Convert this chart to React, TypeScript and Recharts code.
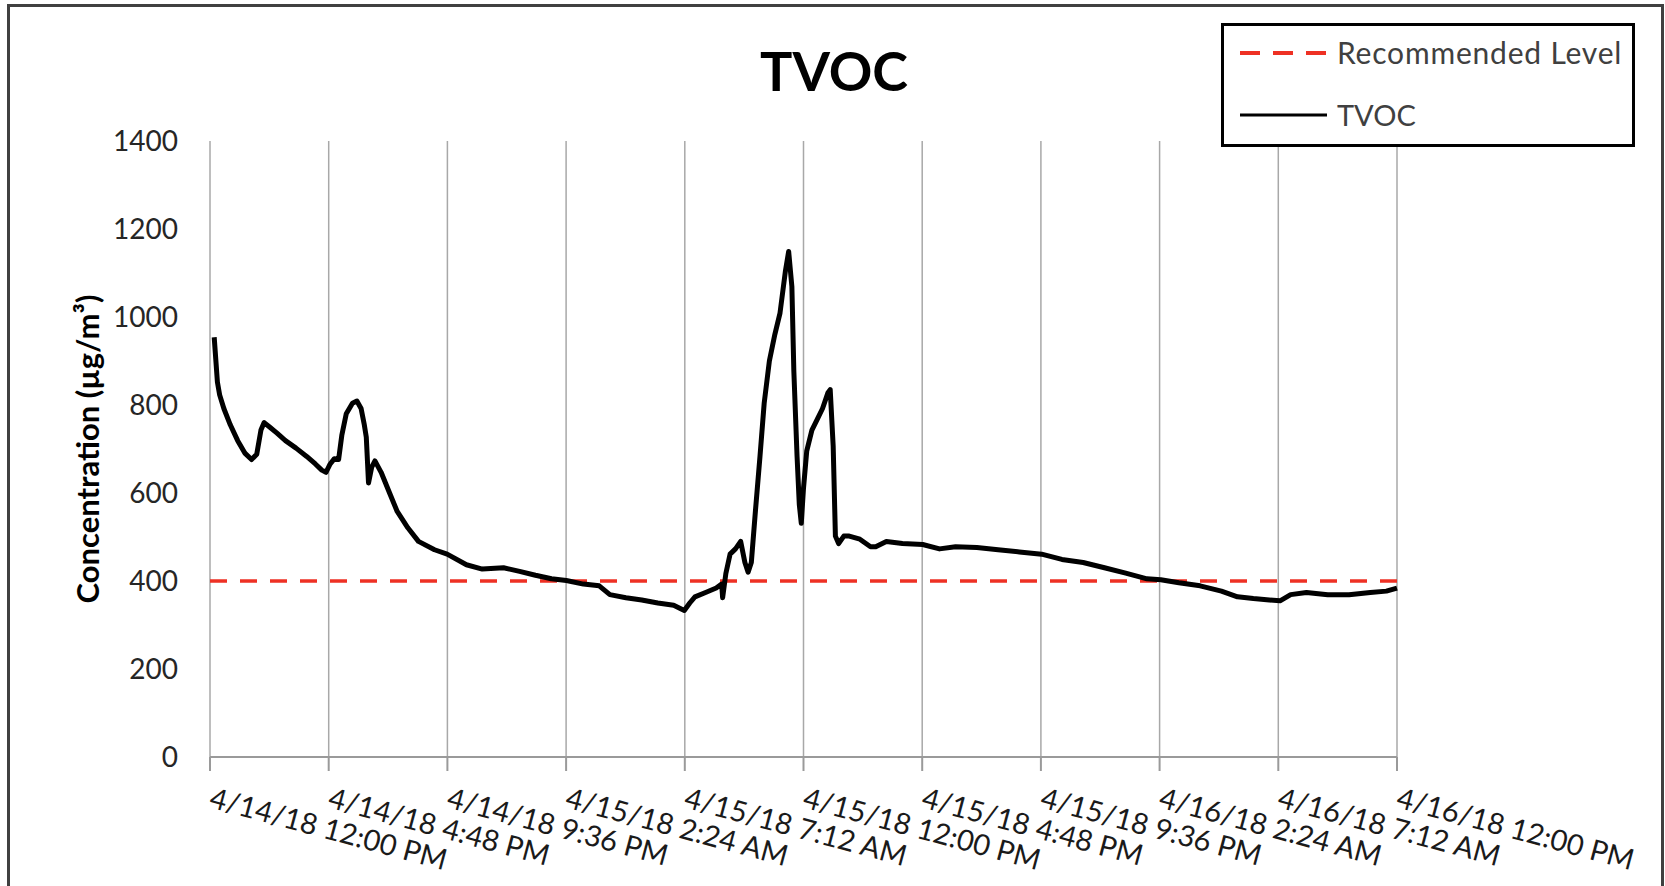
import { LineChart, Line, XAxis, YAxis, CartesianGrid, ReferenceLine, Legend } from 'recharts'

// hours since 4/14/18 12:00 PM
const HOURS = [
  0.17, 0.3, 0.39, 0.56, 0.82, 1.12, 1.42, 1.68, 1.89, 2.06, 2.19, 2.41, 2.71, 3.05, 3.48, 3.91, 4.26,
  4.52, 4.69, 4.86, 5.03, 5.2, 5.33, 5.51, 5.76, 5.94, 6.11, 6.24, 6.32, 6.41, 6.54, 6.67, 6.92, 7.27,
  7.57, 8.0, 8.43, 9.08, 9.59, 10.37, 11.01, 11.87, 12.52, 13.16, 13.81, 14.41, 15.1, 15.74, 16.17,
  16.82, 17.46, 18.11, 18.75, 19.18, 19.4, 19.61, 20.04, 20.47, 20.69, 20.73, 20.86, 21.03, 21.25,
  21.46, 21.63, 21.76, 21.89, 22.06, 22.24, 22.41, 22.62, 22.84, 23.05, 23.27, 23.4, 23.53, 23.61,
  23.74, 23.83, 23.91, 24.0, 24.13, 24.34, 24.56, 24.77, 24.99, 25.08, 25.2, 25.29, 25.42, 25.63,
  25.85, 26.28, 26.71, 26.92, 27.35, 28.0, 28.82, 29.5, 30.15, 31.01, 31.87, 32.73, 33.63, 34.45,
  35.31, 36.17, 37.03, 37.89, 38.45, 39.18, 40.04, 40.9, 41.55, 42.19, 42.84, 43.27, 43.7, 44.34,
  45.2, 46.06, 46.92, 47.57, 48.0,
]

const TVOC = [
  954, 852, 823, 792, 755, 719, 690, 676, 688, 743, 760, 750, 736, 719, 702, 683, 666,
  652, 647, 666, 678, 676, 731, 780, 804, 809, 792, 755, 727, 623, 659, 673, 647, 599,
  558, 521, 490, 471, 461, 437, 427, 430, 422, 413, 405, 401, 393, 389, 369,
  362, 357, 350, 345, 333, 350, 364, 374, 384, 393, 362, 417, 461, 473,
  490, 442, 420, 442, 562, 683, 804, 900, 960, 1009, 1105, 1149, 1069, 876,
  683, 574, 531, 611, 695, 743, 768, 792, 828, 835, 707, 502, 485, 502,
  502, 495, 478, 478, 490, 485, 483, 473, 478, 476, 471, 466, 461, 449,
  442, 430, 418, 405, 403, 396, 389, 377, 364, 360, 357, 355, 369, 374,
  369, 369, 374, 377, 384,
]

const TICK_HOURS = [0, 4.8, 9.6, 14.4, 19.2, 24, 28.8, 33.6, 38.4, 43.2, 48]
const TICK_LABELS = [
  '4/14/18 12:00 PM',
  '4/14/18 4:48 PM',
  '4/14/18 9:36 PM',
  '4/15/18 2:24 AM',
  '4/15/18 7:12 AM',
  '4/15/18 12:00 PM',
  '4/15/18 4:48 PM',
  '4/15/18 9:36 PM',
  '4/16/18 2:24 AM',
  '4/16/18 7:12 AM',
  '4/16/18 12:00 PM',
]
const Y_TICKS = [0, 200, 400, 600, 800, 1000, 1200, 1400]
const RECOMMENDED_LEVEL = 400

const FONT = 'Lato, "Open Sans", sans-serif'
const RED = '#ee3124'

const data = HOURS.map((h, i) => ({ hours: h, tvoc: TVOC[i] }))

function DateTick({ x, y, index }: { x: number; y: number; index: number }) {
  return (
    <g transform={`translate(${x - 2},${y + 36}) rotate(15)`}>
      <text x={0} y={0} fill="#1a1a1a" fontSize={29} fontFamily={FONT}>
        {TICK_LABELS[index]}
      </text>
    </g>
  )
}

function AxisTitle({ viewBox }: { viewBox?: { x: number; y: number; width: number; height: number } }) {
  if (!viewBox) return null
  const cx = 87
  const cy = viewBox.y + viewBox.height / 2
  return (
    <text
      x={cx}
      y={cy}
      transform={`rotate(-90, ${cx}, ${cy})`}
      textAnchor="middle"
      dominantBaseline="central"
      fontFamily={FONT}
      fontWeight={700}
      fontSize={31}
      fill="#000"
    >
      Concentration (µg/m³)
    </text>
  )
}

function LegendBox() {
  return (
    <div
      style={{
        width: 414,
        height: 124,
        boxSizing: 'border-box',
        border: '3px solid #000',
        background: '#fff',
        position: 'relative',
      }}
    >
      <svg width={408} height={118} style={{ position: 'absolute', left: 0, top: 0 }}>
        <line x1={16} x2={103} y1={27} y2={27} stroke={RED} strokeWidth={4} strokeDasharray="20 13" />
        <text x={113} y={38} fontFamily={FONT} fontSize={30} letterSpacing={0.8} fill="#404040">
          Recommended Level
        </text>
        <line x1={16} x2={103} y1={89} y2={89} stroke="#000" strokeWidth={3} />
        <text x={113} y={100} fontFamily={FONT} fontSize={29} fill="#404040">
          TVOC
        </text>
      </svg>
    </div>
  )
}

export default function App() {
  return (
    <div
      style={{
        position: 'absolute',
        left: 0,
        top: 0,
        width: 1665,
        height: 886,
        background: '#fff',
        overflow: 'hidden',
      }}
    >
      <div
        style={{
          position: 'absolute',
          left: 7,
          top: 4,
          width: 1657,
          height: 960,
          boxSizing: 'border-box',
          border: '3px solid #404040',
        }}
      />
      <svg width={1665} height={120} style={{ position: 'absolute', left: 0, top: 0 }}>
        <text x={834} y={91} textAnchor="middle" fontFamily={FONT} fontWeight={700} fontSize={54} fill="#000">
          TVOC
        </text>
      </svg>
      <LineChart
        width={1665}
        height={886}
        data={data}
        margin={{ top: 141, right: 268, bottom: 0, left: 0 }}
        style={{ position: 'absolute', left: 0, top: 0 }}
      >
        <CartesianGrid horizontal={false} stroke="#a8a8a8" strokeWidth={1.5} />
        <XAxis
          dataKey="hours"
          type="number"
          domain={[0, 48]}
          ticks={TICK_HOURS}
          interval={0}
          height={129}
          tickSize={14}
          tickMargin={0}
          stroke="#9a9a9a"
          strokeWidth={2}
          tick={(props: any) => <DateTick {...props} />}
        />
        <YAxis
          type="number"
          domain={[0, 1400]}
          ticks={Y_TICKS}
          width={210}
          axisLine={false}
          tickLine={false}
          tickSize={0}
          tickMargin={32}
          tick={{ fontSize: 28, fontFamily: FONT, fill: '#262626' }}
          label={<AxisTitle />}
        />
        <ReferenceLine y={RECOMMENDED_LEVEL} stroke={RED} strokeWidth={3.5} strokeDasharray="17 13" />
        <Line
          type="linear"
          dataKey="tvoc"
          name="TVOC"
          stroke="#000"
          strokeWidth={5}
          strokeLinejoin="round"
          dot={false}
          isAnimationActive={false}
        />
        <Legend
          layout="vertical"
          align="center"
          verticalAlign="middle"
          content={() => <LegendBox />}
          wrapperStyle={{ left: 1221, top: 23, width: 414, height: 124 }}
        />
      </LineChart>
    </div>
  )
}
